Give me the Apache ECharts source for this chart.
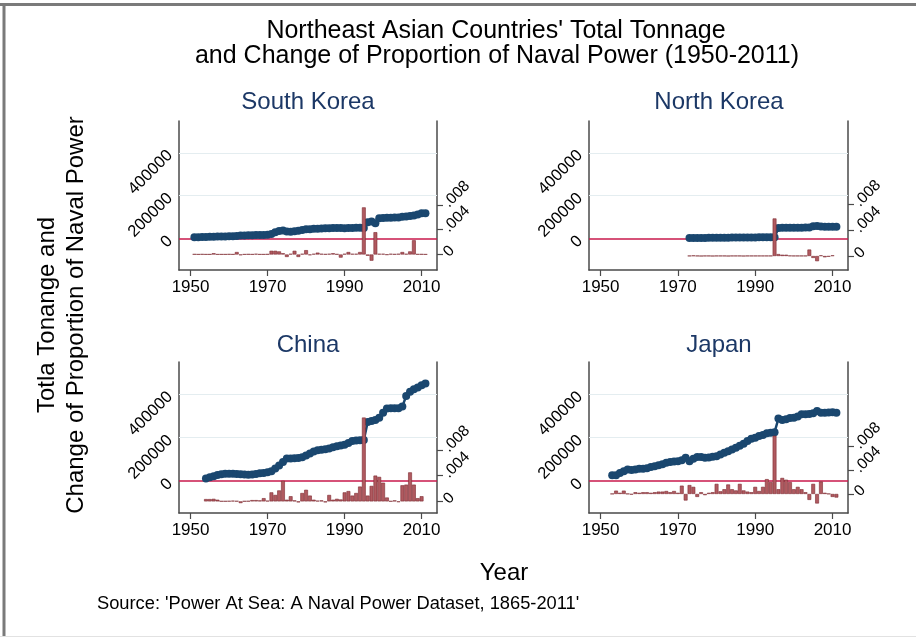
<!DOCTYPE html>
<html>
<head>
<meta charset="utf-8">
<script src="https://cdn.jsdelivr.net/npm/echarts@6/dist/echarts.min.js"></script>
<style>
html,body{margin:0;padding:0;background:#fff;}
#chart{width:916px;height:637px;}
</style>
</head>
<body>
<div id="chart"></div>
<script>
// ---------------- DATA ----------------
const YEARS = [1950,1951,1952,1953,1954,1955,1956,1957,1958,1959,
  1960,1961,1962,1963,1964,1965,1966,1967,1968,1969,
  1970,1971,1972,1973,1974,1975,1976,1977,1978,1979,
  1980,1981,1982,1983,1984,1985,1986,1987,1988,1989,
  1990,1991,1992,1993,1994,1995,1996,1997,1998,1999,
  2000,2001,2002,2003,2004,2005,2006,2007,2008,2009,
  2010,2011];

const X_TICKS = [1950, 1970, 1990, 2010];
const LEFT_TICKS = [0, 200000, 400000];
const RIGHT_TICKS = [0, 0.004, 0.008];

const COUNTRIES = ['South Korea', 'North Korea', 'China', 'Japan'];

// Total tonnage (left axis), aligned with YEARS
const skTonnage = [null,7000,7000,8000,8000,9000,9000,10000,10000,10000,
  11000,11000,12000,15000,15000,16000,16000,17000,17000,17000,
  18000,22000,30000,36000,38000,33000,32000,35000,37000,40000,
  44000,44000,46000,46000,47000,48000,49000,50000,50000,50000,
  49000,50000,50000,51000,51000,50000,76000,80000,72000,95000,
  96000,97000,97000,98000,99000,102000,103000,105000,108000,112000,
  118000,118000];

const nkTonnage = [null,null,null,null,null,null,null,null,null,null,
  null,null,null,null,null,null,null,null,null,null,
  null,null,null,3000,3000,3000,3500,3500,4000,4000,
  4000,4500,4500,4500,5000,5000,5000,5000,5500,5500,
  5500,6000,6000,6000,6000,6000,50000,51000,51000,51000,
  51000,51000,51000,52000,52000,58000,59000,57000,55000,55000,
  55000,56000];

const cnTonnage = [null,null,null,null,12000,18000,23000,29000,32000,34000,
  34000,34000,33000,32000,31000,30000,31000,33000,37000,38000,
  41000,46000,58000,72000,88000,104000,105000,106000,107000,110000,
  118000,128000,137000,142000,145000,147000,150000,156000,161000,164000,
  168000,176000,185000,187000,188000,190000,272000,277000,282000,292000,
  315000,334000,335000,335000,335000,343000,392000,411000,423000,431000,
  441000,449000];

const jpTonnage = [null,null,null,28000,28000,38000,46000,54000,52000,54000,
  57000,57000,60000,65000,69000,74000,78000,85000,88000,91000,
  92000,97000,108000,92000,103000,111000,111000,108000,109000,112000,
  115000,123000,131000,138000,146000,154000,163000,172000,185000,195000,
  200000,208000,212000,220000,223000,225000,288000,282000,285000,291000,
  292000,297000,308000,308000,309000,312000,323000,315000,315000,316000,
  317000,315000];

// Change of proportion of naval power (right axis), aligned with YEARS
const skChange = [null,0.00005,0.00003,0.00005,0.00003,0.00003,0.0002,0.00003,0.00003,0.00003,
  0.00005,0.00003,0.0004,-0.0001,0.00003,0.00005,0.00003,0.0001,0.00003,0.00003,
  0.00005,0.0006,0.0006,0.0005,0.0002,-0.0004,0.0001,0.0006,-0.0004,0.0001,
  0.0007,-0.0001,0.0001,0.0003,0.0001,0.00005,0.0001,0.0002,0.00005,-0.0005,
  0.0001,0.0004,0.0001,0.0001,0.0004,0.0076,-0.0002,-0.001,0.0036,0.0001,
  0.0001,-0.00005,0.0001,0.00005,0.0001,0.0004,0.0001,0.0005,0.0023,0.00005,
  0.00005,0.00003];

const nkChange = [null,null,null,null,null,null,null,null,null,null,
  null,null,null,null,null,null,null,null,null,null,
  null,null,null,0.00003,0.00008,0.00003,0,0.00003,0.00003,0,
  0.00003,0.00003,0.00003,0,0.00003,0.00003,0.00003,0,0.00003,0.00003,
  0.00003,0.00003,0.00003,0.00003,0.00003,0.0058,0.0003,0.0002,0.0002,0.00005,
  0.00003,0.00003,0.00003,0.00003,0.001,-0.0003,-0.0008,0.0001,-0.0002,-0.0001,
  0.0001,null];

const cnChange = [null,null,null,null,0.00036,0.00036,0.0004,0.00026,0.00003,0.00003,
  0.00005,0.0001,0.00005,-0.00026,0.00003,0.00005,0.0002,0.0002,0.00015,0.0005,
  0.0001,0.0014,0.001,0.0017,0.0032,0.00026,0.0008,0.00015,-0.00015,0.0013,
  0.0018,0.0009,0.00026,0.0001,0.00015,-0.00015,0.001,0.00026,0.0004,0.0003,
  0.0014,0.0016,0.0009,0.0013,0.0023,0.013,0.0009,0.0024,0.004,0.0038,
  0.0029,0.0006,0.00003,0.00015,-0.0001,0.0025,0.0026,0.0045,0.0026,0.0005,
  0.0008,null];

const jpChange = [null,null,null,0.00003,0.00056,0.0002,0.00056,0.00003,-0.0001,0.0003,
  0.0002,0.0003,0.0003,0.0002,0.0003,0.0004,0.0004,0.0005,0.0003,0.0005,
  0.0002,0.0014,-0.0011,0.0015,0.0012,-0.0005,0.0003,-0.0002,0.0002,0.0003,
  0.0017,0.00045,0.0008,0.0016,0.0008,0.0006,0.0017,0.0006,0.0004,0.0003,
  0.0012,0.0005,0.0012,0.0025,0.002,0.0098,0.0008,0.0027,0.0024,0.002,
  0.0008,0.0012,0.0008,0.0003,-0.001,0.0017,-0.0016,0.0021,0.0002,0.00003,
  -0.0005,-0.0006];

// ---------------- LAYOUT / STYLE ----------------
const FONT = 'Liberation Sans, Arial, sans-serif';
const TONNAGE = [skTonnage, nkTonnage, cnTonnage, jpTonnage];
const CHANGE = [skChange, nkChange, cnChange, jpChange];
const GRIDS = [
  {left:179, top:121, width:258, height:149},
  {left:589, top:121, width:259, height:149},
  {left:179, top:362, width:258, height:151},
  {left:589, top:362, width:259, height:151}
];
const RIGHT_RANGE = [
  [-0.0025, 0.02153],
  [-0.00216, 0.02085],
  [-0.0018, 0.02161],
  [-0.0032, 0.0222]
];
const LEFT_RANGE = [-146000, 548000];
const TITLE_POS = [[308,102],[719,102],[308,345.5],[719,345.5]];

function pairs(vals){
  const out = [];
  YEARS.forEach((y,i)=>{ if (vals[i] !== null) out.push([y, vals[i]]); });
  return out;
}
function fmtPlain(v){ return String(Math.round(v)); }
function fmtRight(v){
  if (Math.abs(v) < 1e-12) return '0';
  return String(+v.toFixed(4)).replace(/^0\./, '.').replace(/^-0\./, '-.');
}

const axisColor = '#4a4a4a';
const labelColor = '#000';
const xAxes = [], yAxes = [], series = [];
GRIDS.forEach((g, i) => {
  xAxes.push({
    type:'value', gridIndex:i, min:1947, max:2014,
    axisLine:{show:true, onZero:false, lineStyle:{color:axisColor, width:1.5}},
    axisTick:{show:true, length:6, customValues:X_TICKS, lineStyle:{color:axisColor, width:1.2}},
    axisLabel:{customValues:X_TICKS, formatter:fmtPlain, fontSize:17, fontFamily:FONT, color:labelColor, margin:9},
    splitLine:{show:false}
  });
  yAxes.push({
    type:'value', gridIndex:i, position:'left', min:LEFT_RANGE[0], max:LEFT_RANGE[1],
    axisLine:{show:true, onZero:false, lineStyle:{color:axisColor, width:1.5}},
    axisTick:{show:false, customValues:LEFT_TICKS},
    axisLabel:{customValues:LEFT_TICKS, formatter:fmtPlain, rotate:45, fontSize:16.5, fontFamily:FONT, color:labelColor, margin:9},
    splitLine:{show:false}
  });
  yAxes.push({
    type:'value', gridIndex:i, position:'right', min:RIGHT_RANGE[i][0], max:RIGHT_RANGE[i][1],
    axisLine:{show:true, onZero:false, lineStyle:{color:axisColor, width:1.5}},
    axisTick:{show:true, length:6, customValues:RIGHT_TICKS, lineStyle:{color:axisColor, width:1.2}},
    axisLabel:{customValues:RIGHT_TICKS, rotate:45, fontSize:15.5, fontFamily:FONT, color:labelColor, margin:9, formatter:fmtRight},
    splitLine:{show:false}
  });
  series.push({
    name: COUNTRIES[i] + ' tonnage',
    type:'line', xAxisIndex:i, yAxisIndex:2*i,
    data: pairs(TONNAGE[i]),
    symbol:'circle', symbolSize:8, showSymbol:true, showAllSymbol:true,
    itemStyle:{color:'#1a476f'},
    lineStyle:{color:'#1a476f', width:2.5},
    z:2,
    markLine:{
      silent:true, symbol:'none', z:1, animation:false,
      label:{show:false},
      data:[
        {yAxis:200000, lineStyle:{color:'#e4edf0', width:1, type:'solid'}},
        {yAxis:400000, lineStyle:{color:'#e4edf0', width:1, type:'solid'}},
        {yAxis:0, lineStyle:{color:'#c8194b', width:1.6, type:'solid'}}
      ]
    }
  });
  series.push({
    name: COUNTRIES[i] + ' change',
    type:'bar', xAxisIndex:i, yAxisIndex:2*i+1,
    data: pairs(CHANGE[i]),
    barWidth:3.8,
    itemStyle:{color:'#b05a60', borderColor:'#7d2a31', borderWidth:0.6},
    z:3
  });
});

const graphic = [
  {type:'line', shape:{x1:0,y1:4.5,x2:916,y2:4.5}, style:{stroke:'#7a7a7a', lineWidth:3}},
  {type:'line', shape:{x1:4,y1:3,x2:4,y2:637}, style:{stroke:'#7a7a7a', lineWidth:3}},
  {type:'line', shape:{x1:0,y1:636.5,x2:916,y2:636.5}, style:{stroke:'#e2e2e2', lineWidth:1}},
  {type:'text', x:496, y:31, style:{text:"Northeast Asian Countries' Total Tonnage", font:'25px '+FONT, fill:'#000', align:'center', verticalAlign:'middle', textAlign:'center', textVerticalAlign:'middle'}},
  {type:'text', x:497, y:56, style:{text:'and Change of Proportion of Naval Power (1950-2011)', font:'25px '+FONT, fill:'#000', align:'center', verticalAlign:'middle', textAlign:'center', textVerticalAlign:'middle'}},
  {type:'text', x:47, y:315, rotation:Math.PI/2, style:{text:'Totla Tonange and', font:'24px '+FONT, fill:'#000', align:'center', verticalAlign:'middle', textAlign:'center', textVerticalAlign:'middle'}},
  {type:'text', x:76, y:315, rotation:Math.PI/2, style:{text:'Change of Proportion of Naval Power', font:'24px '+FONT, fill:'#000', align:'center', verticalAlign:'middle', textAlign:'center', textVerticalAlign:'middle'}},
  {type:'text', x:504, y:573, style:{text:'Year', font:'24px '+FONT, fill:'#000', align:'center', verticalAlign:'middle', textAlign:'center', textVerticalAlign:'middle'}},
  {type:'text', x:97, y:604, style:{text:"Source: 'Power At Sea: A Naval Power Dataset, 1865-2011'", font:'18.3px '+FONT, fill:'#000', align:'left', verticalAlign:'middle', textAlign:'left', textVerticalAlign:'middle'}}
];
COUNTRIES.forEach((c, i) => {
  graphic.push({type:'text', x:TITLE_POS[i][0], y:TITLE_POS[i][1], style:{text:c, font:'24px '+FONT, fill:'#1c3866', align:'center', verticalAlign:'middle', textAlign:'center', textVerticalAlign:'middle'}});
});

const chart = echarts.init(document.getElementById('chart'), null, {renderer:'canvas'});
chart.setOption({
  backgroundColor:'#ffffff',
  animation:false,
  grid: GRIDS,
  xAxis: xAxes,
  yAxis: yAxes,
  series: series,
  graphic: graphic
});
</script>
</body>
</html>
